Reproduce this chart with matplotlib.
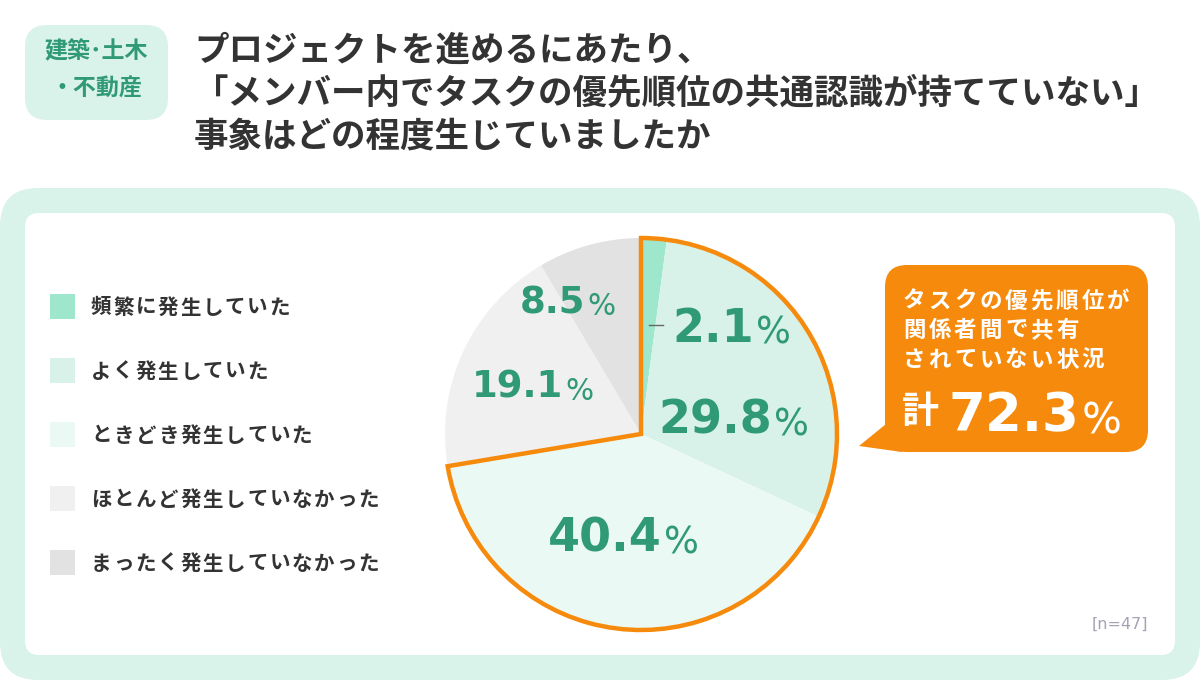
import matplotlib
matplotlib.use("Agg")
import matplotlib.pyplot as plt
from matplotlib.patches import FancyBboxPatch, Wedge, Polygon, Rectangle

plt.rcParams['font.family'] = ['Noto Sans CJK JP', 'DejaVu Sans']

# data
categories = ["頻繁に発生していた", "よく発生していた", "ときどき発生していた",
              "ほとんど発生していなかった", "まったく発生していなかった"]
values = [2.1, 29.8, 40.4, 19.1, 8.5]
labels = ["2.1", "29.8", "40.4", "19.1", "8.5"]
colors = ["#9ee6cc", "#d8f2e9", "#ebf9f4", "#f0f0f0", "#e2e2e2"]
highlight_n = 3          # first three slices are summed in the callout
total_label = "72.3"
title_lines = ["プロジェクトを進めるにあたり、",
               "「メンバー内でタスクの優先順位の共通認識が持てていない」",
               "事象はどの程度生じていましたか"]
tag_lines = ["建築･土木", "・不動産"]
callout_lines = ["タスクの優先順位が", "関係者間で共有", "されていない状況"]
n_label = "[n=47]"

GREEN = "#2f9a75"
MINT = "#d9f2ea"
ORANGE = "#f68a0c"
DARK = "#333333"
W, H = 1200, 680


def px(p):
    return p * 0.72


def tracked(ax, x, y, s, size, step, **kw):
    # manual letter spacing for full-width text
    for i, ch in enumerate(s):
        ax.text(x + i * step, y, ch, fontsize=px(size), ha="left", va="center", **kw)


fig = plt.figure(figsize=(W / 100, H / 100), dpi=100)
fig.patch.set_facecolor("white")

bg = fig.add_axes([0, 0, 1, 1])
bg.set_xlim(0, W)
bg.set_ylim(H, 0)
bg.axis("off")

# panels
bg.add_patch(FancyBboxPatch((0, 188), W, H - 188, boxstyle="round,pad=0,rounding_size=38",
                            fc=MINT, ec="none"))
bg.add_patch(FancyBboxPatch((25, 213), 1150, 442, boxstyle="round,pad=0,rounding_size=14",
                            fc="white", ec="none"))
bg.add_patch(FancyBboxPatch((25, 25), 143, 95, boxstyle="round,pad=0,rounding_size=22",
                            fc=MINT, ec="none"))

# pie
cx, cy, r = 641, 434, 196
pie_ax = fig.add_axes([(cx - r) / W, (H - cy - r) / H, 2 * r / W, 2 * r / H])
pie_ax.pie(values, colors=colors, startangle=90, counterclock=False,
           wedgeprops=dict(linewidth=0))
total = sum(values)
share = sum(values[:highlight_n]) / total
pie_ax.add_patch(Wedge((0, 0), 1, 90 - 360 * share, 90, fc="none", ec=ORANGE,
                       lw=3.2, joinstyle="miter", clip_on=False))
pie_ax.set_xlim(-1, 1)
pie_ax.set_ylim(-1, 1)
pie_ax.axis("off")

# overlay for text
ov = fig.add_axes([0, 0, 1, 1])
ov.set_xlim(0, W)
ov.set_ylim(H, 0)
ov.axis("off")
ov.patch.set_alpha(0)

# tag + title
for i, t in enumerate(tag_lines):
    ov.text(96, 52 + i * 37, t, fontsize=px(23), color=GREEN, weight="bold",
            ha="center", va="center")
for i, t in enumerate(title_lines):
    ov.text(194, 50 + i * 43, t, fontsize=px(34.5), color=DARK, weight="bold",
            ha="left", va="center")

# legend
for i, (c, name) in enumerate(zip(colors, categories)):
    y = 306 + i * 64
    ov.add_patch(Rectangle((50, y - 12), 25, 25, fc=c, ec="none"))
    tracked(ov, 91, y + 1, name, 20.5, 22.3, color=DARK, weight="bold")

# percentage labels
label_pos = [(672, 342, 46), (658, 434, 46), (548, 552, 46), (472, 398, 37), (520, 313, 37)]
for lab, (x, y, s) in zip(labels, label_pos):
    t = ov.text(x, y, lab, fontsize=px(s), color=GREEN, weight="bold",
                family="DejaVu Sans", ha="left", va="baseline")
    ov.annotate("%", xy=(1, 0), xycoords=t, xytext=(1.5, 0), textcoords="offset points",
                fontsize=px(s * 0.8), color=GREEN, weight="normal", family="DejaVu Sans",
                ha="left", va="bottom")
ov.plot([649, 663], [325, 325], color="#666666", lw=1)

# callout
ov.add_patch(FancyBboxPatch((885, 265), 263, 187, boxstyle="round,pad=0,rounding_size=22",
                            fc=ORANGE, ec="none"))
ov.add_patch(Polygon([(886, 424), (859, 446), (902, 452), (910, 430)], closed=True,
                     fc=ORANGE, ec="none"))
for i, t in enumerate(callout_lines):
    tracked(ov, 903, 301 + i * 29.5, t, 22.5, 25.5, color="white", weight="bold")
ov.text(902, 412, "計", fontsize=px(37), color="white", weight="bold", ha="left", va="center")
t = ov.text(948, 431, total_label, fontsize=px(53), color="white", weight="bold",
            family="DejaVu Sans", ha="left", va="baseline")
ov.annotate("%", xy=(1, 0), xycoords=t, xytext=(2, 0), textcoords="offset points",
            fontsize=px(42), color="white", weight="normal", family="DejaVu Sans",
            ha="left", va="bottom")

ov.text(1148, 624, n_label, fontsize=px(16), color="#a3a3b5", family="DejaVu Sans",
        ha="right", va="center")

fig.savefig("out.png", dpi=100, facecolor="white")
